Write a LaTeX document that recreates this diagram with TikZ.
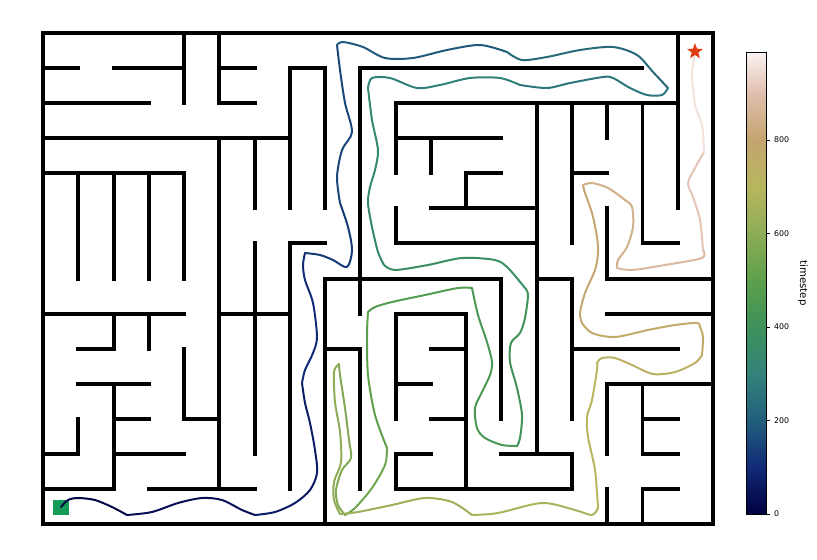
\documentclass[tikz,border=0pt]{standalone}
\usepackage{fontspec}
\setmainfont{DejaVu Sans}
\usetikzlibrary{shapes.geometric}

% gist_earth stops, every 100 timesteps
\definecolor{cm0}{rgb}{0.000,0.000,0.250}
\definecolor{cm1}{rgb}{0.067,0.167,0.467}
\definecolor{cm2}{rgb}{0.133,0.370,0.486}
\definecolor{cm3}{rgb}{0.197,0.512,0.479}
\definecolor{cm4}{rgb}{0.244,0.570,0.356}
\definecolor{cm5}{rgb}{0.363,0.627,0.294}
\definecolor{cm6}{rgb}{0.556,0.674,0.338}
\definecolor{cm7}{rgb}{0.718,0.715,0.370}
\definecolor{cm8}{rgb}{0.769,0.645,0.435}
\definecolor{cm9}{rgb}{0.880,0.747,0.683}
\definecolor{cm10}{rgb}{0.992,0.984,0.984}
\definecolor{startgreen}{RGB}{20,155,90}
\definecolor{goalred}{RGB}{224,60,20}

\begin{document}
\begin{tikzpicture}[x=0.03cm, y=-0.03cm]
    \useasboundingbox (0,0) rectangle (817,559);
    \tikzstyle{wall}=[line width=3.4pt, line cap=rect]
    \tikzstyle{trail}=[line width=1.7pt, line cap=round, line join=round]
    \tikzstyle{tick}=[font=\fontsize{6.7}{8}\selectfont, anchor=west, inner sep=0pt]

    % maze, one unit = one cell
    \begin{scope}[shift={(43,33)}, x=1.05789cm, y=-1.05213cm]
        \draw[wall] (0,0) rectangle (19,14);
        % horizontal walls
        \draw[wall] (0,1)--(1,1) (2,1)--(4,1) (5,1)--(6,1) (7,1)--(8,1) (9,1)--(17,1);
        \draw[wall] (0,2)--(3,2) (5,2)--(6,2) (10,2)--(18,2);
        \draw[wall] (0,3)--(7,3) (10,3)--(13,3);
        \draw[wall] (0,4)--(4,4) (12,4)--(13,4) (15,4)--(16,4);
        \draw[wall] (11,5)--(14,5);
        \draw[wall] (7,6)--(8,6) (10,6)--(14,6) (17,6)--(18,6);
        \draw[wall] (8,7)--(13,7) (14,7)--(15,7) (16,7)--(19,7);
        \draw[wall] (0,8)--(4,8) (5,8)--(7,8) (10,8)--(12,8) (16,8)--(19,8);
        \draw[wall] (1,9)--(2,9) (8,9)--(9,9) (11,9)--(12,9) (15,9)--(18,9);
        \draw[wall] (1,10)--(3,10) (10,10)--(11,10) (16,10)--(19,10);
        \draw[wall] (2,11)--(3,11) (4,11)--(5,11) (11,11)--(12,11) (17,11)--(18,11);
        \draw[wall] (0,12)--(1,12) (2,12)--(4,12) (10,12)--(11,12) (13,12)--(15,12) (17,12)--(18,12);
        \draw[wall] (0,13)--(2,13) (3,13)--(6,13) (10,13)--(15,13) (17,13)--(18,13);
        % vertical walls
        \draw[wall] (1,4)--(1,7) (1,11)--(1,12);
        \draw[wall] (2,4)--(2,7) (2,8)--(2,9) (2,10)--(2,13);
        \draw[wall] (3,4)--(3,7) (3,8)--(3,9);
        \draw[wall] (4,0)--(4,2) (4,4)--(4,7) (4,9)--(4,11);
        \draw[wall] (5,0)--(5,2) (5,3)--(5,13);
        \draw[wall] (6,3)--(6,5) (6,6)--(6,12);
        \draw[wall] (7,1)--(7,5) (7,6)--(7,13);
        \draw[wall] (8,1)--(8,5) (8,7)--(8,14);
        \draw[wall] (9,1)--(9,8) (9,9)--(9,13);
        \draw[wall] (10,2)--(10,4) (10,5)--(10,6) (10,8)--(10,11) (10,12)--(10,13);
        \draw[wall] (11,3)--(11,4);
        \draw[wall] (12,4)--(12,5) (12,8)--(12,13);
        \draw[wall] (13,7)--(13,11);
        \draw[wall] (14,2)--(14,12);
        \draw[wall] (15,2)--(15,6) (15,7)--(15,11) (15,12)--(15,13);
        \draw[wall] (16,2)--(16,3) (16,5)--(16,7) (16,10)--(16,12) (16,13)--(16,14);
        \draw[wall] (17,2)--(17,6) (17,10)--(17,12) (17,13)--(17,14);
        \draw[wall] (18,0)--(18,5);
    \end{scope}

    \node[fill=startgreen, minimum size=0.47cm, inner sep=0pt] (start) at (61,507.5) {};

    % trajectory, coloured by timestep
    \draw[trail, cm1!12!cm0] plot[smooth] coordinates {(61,507) (68,500) (78,498) (95,500) (112,507) (127,515)};
    \draw[trail, cm1!38!cm0] plot[smooth] coordinates {(127,515) (152,512) (178,503) (202,498) (222,500) (242,510) (255,515)};
    \draw[trail, cm1!68!cm0] plot[smooth] coordinates {(255,515) (275,512) (295,503) (310,490) (317,473) (315,450) (310,423) (305,403) (302,383)};
    \draw[trail, cm1] plot[smooth] coordinates {(302,383) (305,370) (313,353) (317,337) (313,303) (305,280) (303,265) (305,253)};
    \draw[trail, cm2!28!cm1] plot[smooth] coordinates {(305,253) (320,255) (333,260) (347,267) (352,250) (348,227) (340,203)};
    \draw[trail, cm2!55!cm1] plot[smooth] coordinates {(340,203) (337,177) (342,150) (352,132) (345,103) (340,70) (337,45)};
    \draw[trail, cm2!90!cm1] plot[smooth] coordinates {(337,45) (343,42) (363,47) (385,58) (413,58) (447,50) (480,45) (507,52)};
    \draw[trail, cm3!30!cm2] plot[smooth] coordinates {(507,52) (522,60) (547,57) (580,50) (613,47) (637,55) (653,72) (668,88)};
    \draw[trail, cm3!65!cm2] plot[smooth] coordinates {(668,88) (662,95) (647,95) (630,88) (613,78) (603,77) (570,83) (547,88) (520,85)};
    \draw[trail, cm3!95!cm2] plot[smooth] coordinates {(520,85) (500,78) (470,78) (440,85) (417,88) (390,78) (372,78) (368,88)};
    \draw[trail, cm4!30!cm3] plot[smooth] coordinates {(368,88) (372,120) (378,150) (375,170) (370,187) (368,203) (372,227) (378,252) (384,265)};
    \draw[trail, cm4!68!cm3] plot[smooth] coordinates {(384,265) (395,270) (428,265) (462,258) (495,260) (508,268) (525,288)};
    \draw[trail, cm5!5!cm4] plot[smooth] coordinates {(525,288) (528,295) (525,318) (520,333) (511,343) (510,362) (517,388) (522,415) (520,438) (517,446)};
    \draw[trail, cm5!43!cm4] plot[smooth] coordinates {(517,446) (502,445) (485,438) (477,428) (475,408) (482,392) (490,375) (492,362) (487,342) (478,315) (472,288)};
    \draw[trail, cm5!70!cm4] plot[smooth] coordinates {(472,288) (458,288) (425,295) (392,302) (375,307) (368,312)};
    \draw[trail, cm5] plot[smooth] coordinates {(368,312) (367,335) (368,375) (375,415) (387,448)};
    \draw[trail, cm6!40!cm5] plot[smooth] coordinates {(387,448) (385,465) (372,488) (355,508) (345,515)};
    \draw[trail, cm6!75!cm5] plot[smooth] coordinates {(345,515) (338,505) (336,490) (342,470) (351,458) (349,440) (345,408) (340,375) (339,364)};
    \draw[trail, cm7!5!cm6] plot[smooth] coordinates {(339,364) (334,372) (335,402) (340,432) (341,462) (334,482) (334,500) (340,514)};
    \draw[trail, cm7!35!cm6] plot[smooth] coordinates {(340,514) (358,512) (392,505) (425,498) (452,502) (472,515)};
    \draw[trail, cm7!70!cm6] plot[smooth] coordinates {(472,515) (498,513) (542,503) (575,510) (592,515) (598,508)};
    \draw[trail, cm8!5!cm7] plot[smooth] coordinates {(598,508) (595,470) (588,437) (587,417) (592,400) (597,370) (597,363)};
    \draw[trail, cm8!33!cm7] plot[smooth] coordinates {(597,363) (602,358) (615,358) (632,365) (653,374) (675,372) (695,363) (702,355)};
    \draw[trail, cm8!65!cm7] plot[smooth] coordinates {(702,355) (703,337) (700,327) (697,323) (675,325) (648,330) (615,337) (592,333) (582,323)};
    \draw[trail, cm9!5!cm8] plot[smooth] coordinates {(582,323) (580,313) (585,293) (595,270) (598,253) (597,237) (592,213) (585,193) (583,185)};
    \draw[trail, cm9!45!cm8] plot[smooth] coordinates {(583,185) (592,183) (608,188) (625,200) (632,207) (633,227) (627,247) (618,260) (617,268)};
    \draw[trail, cm9!78!cm8] plot[smooth] coordinates {(617,268) (632,270) (665,265) (702,258) (703,250)};
    \draw[trail, cm10!10!cm9] plot[smooth] coordinates {(703,250) (700,220) (693,197) (688,183) (695,168) (704,152)};
    \draw[trail, cm10!60!cm9] plot[smooth] coordinates {(704,152) (702,125) (695,105) (692,75) (694,58) (695,52)};

    \node[star, star points=5, star point ratio=2.4, fill=goalred, minimum size=0.5cm, inner sep=0pt] (goal) at (695,51.5) {};

    % colorbar
    \shade[bottom color=cm0, top color=cm1] (746,514) rectangle (766,467);
    \shade[bottom color=cm1, top color=cm2] (746,467.5) rectangle (766,420.2);
    \shade[bottom color=cm2, top color=cm3] (746,420.7) rectangle (766,373.5);
    \shade[bottom color=cm3, top color=cm4] (746,374) rectangle (766,326.7);
    \shade[bottom color=cm4, top color=cm5] (746,327.2) rectangle (766,280);
    \shade[bottom color=cm5, top color=cm6] (746,280.5) rectangle (766,233.2);
    \shade[bottom color=cm6, top color=cm7] (746,233.7) rectangle (766,186.5);
    \shade[bottom color=cm7, top color=cm8] (746,187) rectangle (766,139.7);
    \shade[bottom color=cm8, top color=cm9] (746,140.2) rectangle (766,93);
    \shade[bottom color=cm9, top color=cm10!87!cm9] (746,93.5) rectangle (766,52.7);
    \draw[line width=0.7pt] (746,52.7) rectangle (766,514);

    \draw[line width=0.6pt] (766,514)--(770,514) (766,420.5)--(770,420.5) (766,327)--(770,327)
        (766,233.5)--(770,233.5) (766,140)--(770,140);
    \node[tick] (t0) at (774,514) {0};
    \node[tick] (t200) at (774,420.5) {200};
    \node[tick] (t400) at (774,327) {400};
    \node[tick] (t600) at (774,233.5) {600};
    \node[tick] (t800) at (774,140) {800};
    \node[rotate=-90, font=\fontsize{8.7}{10}\selectfont] (cblabel) at (803,283) {timestep};
\end{tikzpicture}
\end{document}
